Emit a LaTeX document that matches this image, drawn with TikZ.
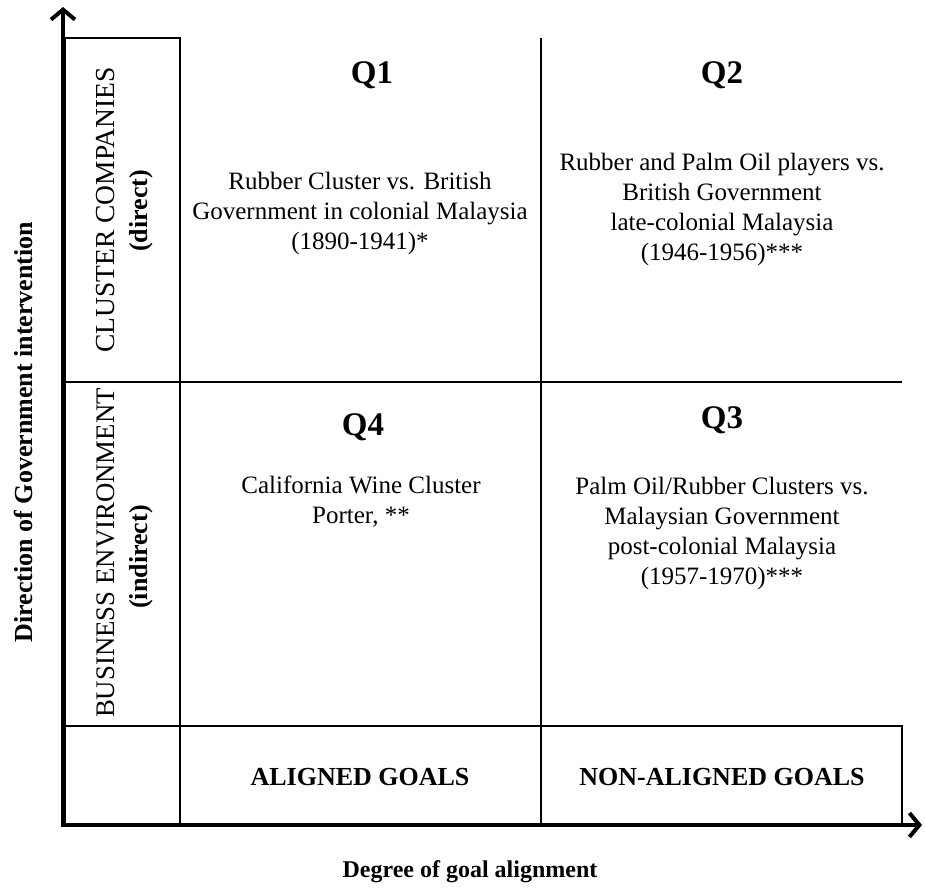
\documentclass[tikz,border=0pt]{standalone}
\usepackage{fontspec}
\setmainfont{Liberation Serif}
\usetikzlibrary{arrows.meta}

\tikzset{
  axis/.style={line width=4pt,{Straight Barb[length=10pt,width=24pt]}-{Straight Barb[length=10pt,width=24pt]}},
  gridline/.style={line width=1.5pt},
  cell/.style={align=center,font=\fontsize{25}{30}\selectfont},
  qlabel/.style={font=\fontsize{33}{36}\selectfont\bfseries},
  goal/.style={font=\fontsize{26}{30}\selectfont\bfseries},
  side/.style={rotate=90,font=\fontsize{27.5}{30}\selectfont}
}

\begin{document}
\begin{tikzpicture}[x=1pt,y=-1pt]
\useasboundingbox (0,0) rectangle (925,889);

% Grid of the matrix
\draw[gridline] (65,38) rectangle (180,825);
\draw[gridline] (541,38) -- (541,825);
\draw[gridline] (65,382) -- (902,382);
\draw[gridline] (65,726) -- (902,726) -- (902,825);

% Axes
\coordinate (ytop) at (63,7);
\coordinate (origin) at (63,825);
\coordinate (xend) at (922,825);
\draw[axis] (ytop) -- (origin) -- (xend);

% Quadrants
\node[qlabel] (q1) at (372,75) {Q1};
\node[cell] (q1text) at (360,213) {Rubber Cluster vs. British\\Government in colonial Malaysia\\(1890-1941)*};
\node[qlabel] (q2) at (722,75) {Q2};
\node[cell] (q2text) at (722,209) {Rubber and Palm Oil players vs.\\British Government\\late-colonial Malaysia\\(1946-1956)***};
\node[qlabel] (q4) at (363,427) {Q4};
\node[cell] (q4text) at (361,502) {California Wine Cluster\\Porter, **};
\node[qlabel] (q3) at (722,420) {Q3};
\node[cell] (q3text) at (722,533) {Palm Oil/Rubber Clusters vs.\\Malaysian Government\\post-colonial Malaysia\\(1957-1970)***};

% Row and column headings
\node[side] (cluster) at (106,210) {CLUSTER COMPANIES};
\node[side,font=\fontsize{26}{30}\selectfont\bfseries] (direct) at (141,211) {(direct)};
\node[side,font=\fontsize{26.8}{30}\selectfont] (business) at (106,553) {BUSINESS ENVIRONMENT};
\node[side,font=\fontsize{26}{30}\selectfont\bfseries] (indirect) at (141,557) {(indirect)};
\node[goal] (aligned) at (360,777) {ALIGNED GOALS};
\node[goal] (nonaligned) at (722,777) {NON-ALIGNED GOALS};

% Axis titles
\node[goal,rotate=90] (ytitle) at (23,432) {Direction of Government intervention};
\node[goal,font=\fontsize{24}{28}\selectfont\bfseries] (xtitle) at (470,872) {Degree of goal alignment};

\end{tikzpicture}
\end{document}
